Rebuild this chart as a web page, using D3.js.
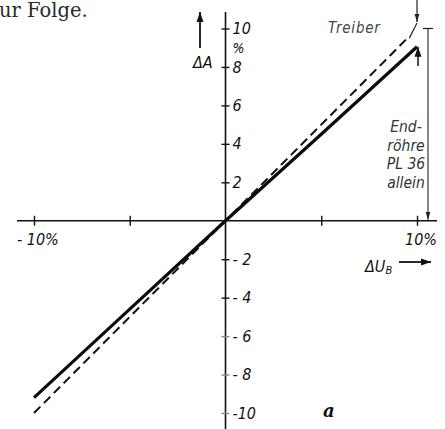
<!DOCTYPE html>
<html lang="de">
<head>
  <meta charset="UTF-8" />
  <title>ΔA über ΔU_B</title>
  <script src="https://cdn.jsdelivr.net/npm/d3@7"></script>
  <style>
    html, body { margin: 0; padding: 0; background: #fff; overflow: hidden; }
    svg { display: block; }
    .lbl { font-family: "DejaVu Sans", sans-serif; font-stretch: condensed; font-style: italic; fill: #111; }
  </style>
</head>
<body>
  <script>
    // kennlinien (Prozent)
    const endroehre = [[-10, -9.2], [-5, -4.6], [0, 0], [5, 4.5], [10, 9.05]];
    const mitTreiber = [[-10, -10], [-5, -5], [0, 0], [5, 5], [9.5, 9.5]];
    const yTicks = [-10, -8, -6, -4, -2, 2, 4, 6, 8, 10];
    const xTicks = [-10, -5, 5, 10];
    const noteLines = ["End-", "röhre", "PL 36", "allein"];

    const width = 445, height = 429;
    const x = d3.scaleLinear().domain([-10, 10]).range([34, 417]);
    const y = d3.scaleLinear().domain([-10, 10]).range([413, 28.5]);

    const svg = d3.select("body").append("svg")
      .attr("width", width).attr("height", height);

    const defs = svg.append("defs");
    defs.append("marker")
      .attr("id", "head")
      .attr("viewBox", "0 0 10 10")
      .attr("refX", 10).attr("refY", 5)
      .attr("markerWidth", 10).attr("markerHeight", 10)
      .attr("markerUnits", "userSpaceOnUse")
      .attr("orient", "auto")
      .append("path").attr("d", "M0,1.5 L10,5 L0,8.5 Z").attr("fill", "#111");
    defs.append("marker")
      .attr("id", "headThin")
      .attr("viewBox", "0 0 10 10")
      .attr("refX", 10).attr("refY", 5)
      .attr("markerWidth", 8).attr("markerHeight", 8)
      .attr("markerUnits", "userSpaceOnUse")
      .attr("orient", "auto")
      .append("path").attr("d", "M0,2 L10,5 L0,8 Z").attr("fill", "#222");

    // text oben links (rest vom absatz)
    svg.append("text")
      .attr("x", -1).attr("y", 17)
      .attr("font-family", "DejaVu Serif, serif")
      .attr("font-size", 19.5)
      .attr("fill", "#2a2a2a")
      .text("ur Folge.");

    const x0 = x(0), y0 = y(0);

    // achsen-linien
    svg.append("line")
      .attr("x1", x0).attr("x2", x0)
      .attr("y1", 12).attr("y2", height)
      .attr("stroke", "#111").attr("stroke-width", 1.6);
    svg.append("line")
      .attr("x1", 17).attr("x2", 437)
      .attr("y1", y0).attr("y2", y0)
      .attr("stroke", "#111").attr("stroke-width", 1.6);

    // y-achse mit kreuz-ticks
    const yAxis = svg.append("g")
      .attr("transform", `translate(${x0},0)`)
      .call(d3.axisRight(y).tickValues(yTicks).tickSize(4).tickPadding(3)
        .tickFormat(d => d < 0 ? (d === -10 ? "-10" : "- " + (-d)) : String(d)));
    yAxis.select(".domain").remove();
    yAxis.selectAll(".tick line")
      .attr("x1", -4).attr("x2", 4)
      .attr("stroke", d => d <= -6 ? "#888" : "#111")
      .attr("stroke-width", 1.4);
    yAxis.selectAll(".tick text")
      .attr("class", "lbl")
      .attr("font-size", 16)
      .attr("font-family", null)
      .attr("x", 7);

    // x-achse mit kreuz-ticks
    const xAxis = svg.append("g")
      .attr("transform", `translate(0,${y0})`)
      .call(d3.axisBottom(x).tickValues(xTicks).tickSize(4).tickFormat(""));
    xAxis.select(".domain").remove();
    xAxis.selectAll(".tick line")
      .attr("y1", -5).attr("y2", 5)
      .attr("stroke", "#111").attr("stroke-width", 1.4);

    // "%" unter der 10
    svg.append("text").attr("class", "lbl")
      .attr("x", x0 + 7).attr("y", 53)
      .attr("font-size", 14).text("%");

    svg.append("text").attr("class", "lbl")
      .attr("x", 17).attr("y", 245)
      .attr("font-size", 16).text("- 10%");
    svg.append("text").attr("class", "lbl")
      .attr("x", 437).attr("y", 245)
      .attr("text-anchor", "end")
      .attr("font-size", 16).text("10%");

    // ΔA mit pfeil
    svg.append("line")
      .attr("x1", 200).attr("x2", 200).attr("y1", 48).attr("y2", 12)
      .attr("stroke", "#111").attr("stroke-width", 1.8)
      .attr("marker-end", "url(#head)");
    svg.append("text").attr("class", "lbl")
      .attr("x", 193).attr("y", 68)
      .attr("font-size", 16).text("ΔA");

    // ΔU_B mit pfeil
    const ub = svg.append("text").attr("class", "lbl")
      .attr("x", 365).attr("y", 272).attr("font-size", 16);
    ub.append("tspan").text("ΔU");
    ub.append("tspan").attr("font-size", 11).attr("dy", 2).text("B");
    svg.append("line")
      .attr("x1", 399).attr("x2", 431).attr("y1", 262).attr("y2", 262)
      .attr("stroke", "#111").attr("stroke-width", 1.8)
      .attr("marker-end", "url(#head)");

    // kennlinien
    const line = d3.line().x(d => x(d[0])).y(d => y(d[1]));
    svg.append("path")
      .datum(mitTreiber)
      .attr("d", line)
      .attr("fill", "none")
      .attr("stroke", "#111")
      .attr("stroke-width", 2)
      .attr("stroke-dasharray", "9,5");
    svg.append("path")
      .datum(endroehre)
      .attr("d", line)
      .attr("fill", "none")
      .attr("stroke", "#0c0c0c")
      .attr("stroke-width", 3.2);

    // bemaßung "Treiber"
    const xe = x(10);
    svg.append("line")
      .attr("x1", xe).attr("x2", xe).attr("y1", 0).attr("y2", 22)
      .attr("stroke", "#222").attr("stroke-width", 1.2)
      .attr("marker-end", "url(#headThin)");
    svg.append("line")
      .attr("x1", xe).attr("x2", x(9.6)).attr("y1", 23).attr("y2", y(9.5))
      .attr("stroke", "#222").attr("stroke-width", 1.2);
    svg.append("line")
      .attr("x1", xe + 1).attr("x2", xe + 1).attr("y1", 66).attr("y2", y(9.05))
      .attr("stroke", "#111").attr("stroke-width", 1.5)
      .attr("marker-end", "url(#head)");
    svg.append("text").attr("class", "lbl")
      .attr("x", 328).attr("y", 33)
      .attr("font-size", 15)
      .style("fill", "#444")
      .attr("letter-spacing", 0.8)
      .text("Treiber");

    // bemaßung "Endröhre PL 36 allein"
    const xd = 428;
    svg.append("line")
      .attr("x1", xd - 5).attr("x2", xd + 5).attr("y1", y(10)).attr("y2", y(10))
      .attr("stroke", "#222").attr("stroke-width", 1.2);
    svg.append("line")
      .attr("x1", xd).attr("x2", xd).attr("y1", y(10)).attr("y2", y0 - 1)
      .attr("stroke", "#222").attr("stroke-width", 1.1)
      .attr("marker-end", "url(#headThin)");
    svg.append("g").selectAll("text")
      .data(noteLines)
      .join("text")
      .attr("class", "lbl")
      .attr("x", 406)
      .attr("y", (d, i) => 132 + i * 18.7)
      .attr("text-anchor", "middle")
      .attr("font-size", 15.5)
      .style("fill", "#333")
      .text(d => d);

    // bildkennung
    svg.append("text")
      .attr("x", 323).attr("y", 417)
      .attr("font-family", "DejaVu Serif, serif")
      .attr("font-style", "italic").attr("font-weight", "bold")
      .attr("font-size", 18).attr("fill", "#111")
      .text("a");
  </script>
</body>
</html>
